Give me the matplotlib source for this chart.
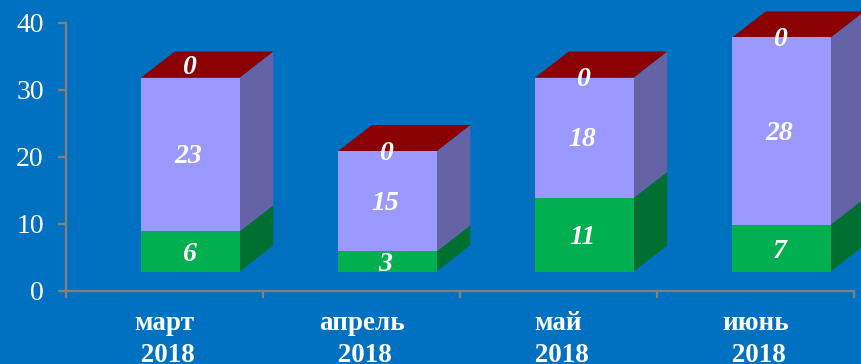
import matplotlib
matplotlib.use('Agg')
import matplotlib.pyplot as plt

months = ['март', 'апрель', 'май', 'июнь']
years = ['2018', '2018', '2018', '2018']
green = [6, 3, 11, 7]
lilac = [23, 15, 18, 28]
red = [0, 0, 0, 0]

bg = '#0070C0'
green_front, green_side = '#00B050', '#006F32'
lilac_front, lilac_side = '#9999FF', '#6363A5'
red_top = '#8B0000'
axis_col = '#808080'

plt.rcParams['font.family'] = ['Liberation Serif', 'DejaVu Serif']

fig = plt.figure(figsize=(8.61, 3.64), dpi=100, facecolor=bg)
ax = fig.add_axes([66/861, (364-290.5)/364, 788/861, 267.5/364], facecolor=bg)
ax.set_xlim(-0.5, 3.5)
ax.set_ylim(0, 40)

# pixel sizes turned into data units
px_x = 4/788
px_y = 40/267.5
width = 98.5*px_x
shift = 26*px_x
base = 19*px_y
dx = 33.5*px_x
dy = 26*px_y


def side(x, y0, y1, col):
    ax.fill([x, x+dx, x+dx, x], [y0, y0+dy, y1+dy, y1], color=col, lw=0, clip_on=False, zorder=2)


for i in range(len(months)):
    x = i + shift
    y1 = base + green[i]
    y2 = y1 + lilac[i]
    y3 = y2 + red[i]
    right = x + width/2
    left = x - width/2
    side(right, base, y1, green_side)
    side(right, y1, y2, lilac_side)
    ax.fill([left, right, right+dx, left+dx], [y3, y3, y3+dy, y3+dy],
            color=red_top, lw=0, clip_on=False, zorder=2)
    ax.bar(x, green[i], width, bottom=base, color=green_front, zorder=3)
    ax.bar(x, lilac[i], width, bottom=y1, color=lilac_front, zorder=3)

    lab = dict(ha='center', va='center', color='white', fontsize=20,
               fontweight='bold', fontstyle='italic', zorder=4)
    tx = x - 2*px_x
    ax.text(tx, base + green[i]/2 - 3*px_y, str(green[i]), **lab)
    ax.text(tx, y1 + lilac[i]/2 - 2*px_y, str(lilac[i]), **lab)
    # the March zero sits higher up on the lid
    ax.text(tx, y3 + (10*px_y if i == 0 else -2*px_y), str(red[i]), **lab)

for s in ['top', 'right']:
    ax.spines[s].set_visible(False)
for s in ['left', 'bottom']:
    ax.spines[s].set_color(axis_col)
    ax.spines[s].set_linewidth(1.7)

ax.set_yticks([0, 10, 20, 30, 40])
ax.tick_params(axis='y', colors=axis_col, length=6, width=1.7, pad=10, labelsize=20, labelcolor='white')
ax.set_xticks([-0.5, 0.5, 1.5, 2.5, 3.5], minor=False)
ax.set_xticklabels([])
ax.tick_params(axis='x', colors=axis_col, length=5, width=1.7)

for i in range(len(months)):
    ax.text(i, -0.078, months[i] + '\n ' + years[i], transform=ax.get_xaxis_transform(),
            ha='center', va='top', color='white', fontsize=19.5, fontweight='bold',
            linespacing=1.37, clip_on=False)

fig.savefig('out.png', dpi=100, facecolor=bg)
